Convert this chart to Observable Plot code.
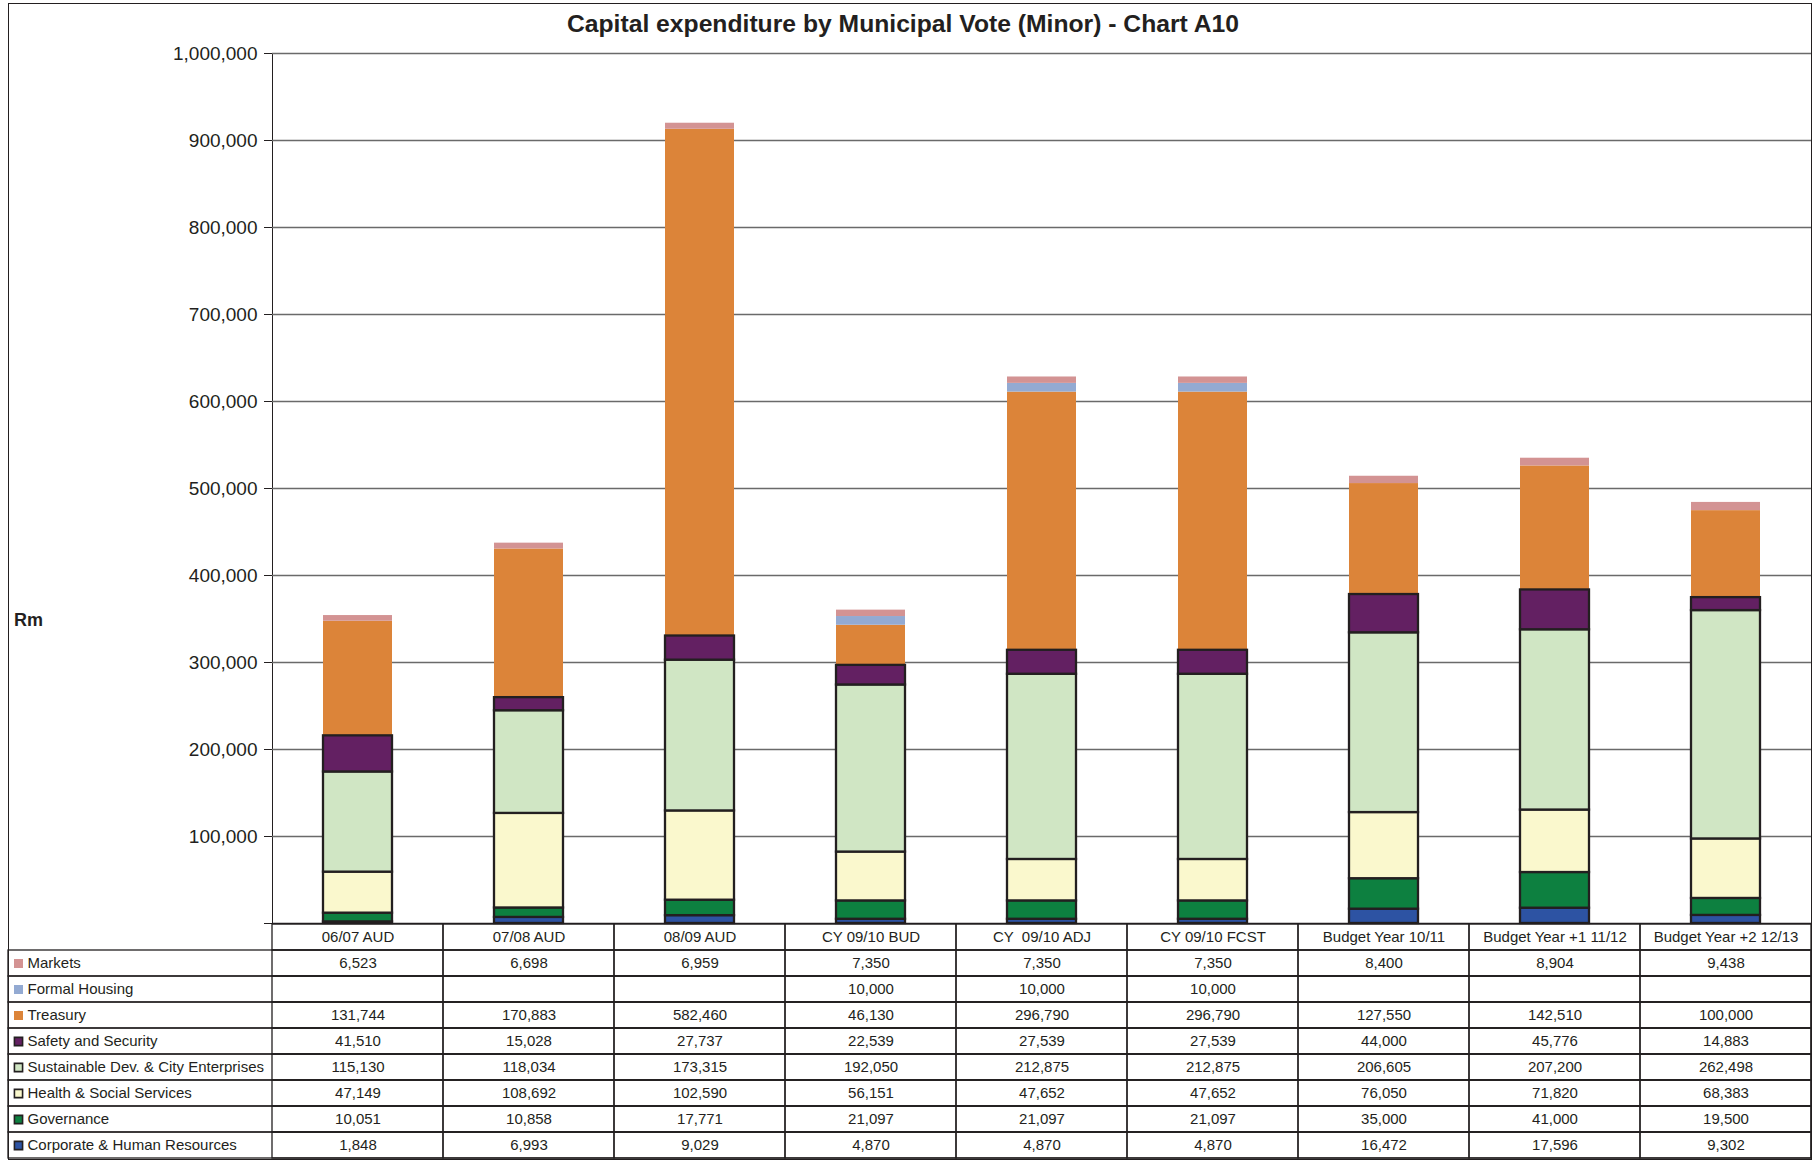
<!DOCTYPE html>
<html>
<head>
<meta charset="utf-8">
<script src="https://cdn.jsdelivr.net/npm/d3@7"></script>
<script src="https://cdn.jsdelivr.net/npm/@observablehq/plot@0.6"></script>
<style>
  html, body { margin: 0; padding: 0; background: #fff; overflow: hidden; }
  #page { position: relative; width: 1818px; height: 1161px; font-family: "Liberation Sans", Arial, sans-serif; color: #231f20; }
  #frame { position: absolute; left: 8px; top: 3px; width: 1804px; height: 1157px; border: 1.5px solid #231f20; box-sizing: border-box; pointer-events: none; }
  #title { position: absolute; left: 0; top: 9px; width: 1806px; text-align: center; font-weight: bold; font-size: 24.7px; line-height: 30px; }
  #ylabel { position: absolute; left: 14px; top: 609px; font-weight: bold; font-size: 18px; line-height: 22px; }
  #chart, #table { position: absolute; left: 0; }
  #chart { top: 0; }
  #table { top: 923px; }
  #table text { white-space: pre; }
</style>
</head>
<body>
<div id="page">
  <div id="title">Capital expenditure by Municipal Vote (Minor) - Chart A10</div>
  <div id="ylabel">Rm</div>
  <div id="chart"></div>
  <div id="table"></div>
  <div id="frame"></div>
</div>
<script>
// Financial years / budget columns
const categories = [
  "06/07 AUD", "07/08 AUD", "08/09 AUD", "CY 09/10 BUD", "CY  09/10 ADJ",
  "CY 09/10 FCST", "Budget Year 10/11", "Budget Year +1 11/12", "Budget Year +2 12/13"
];

// Capital expenditure per vote (R thousand); null = no allocation
const corporate     = [1848, 6993, 9029, 4870, 4870, 4870, 16472, 17596, 9302];
const governance    = [10051, 10858, 17771, 21097, 21097, 21097, 35000, 41000, 19500];
const health        = [47149, 108692, 102590, 56151, 47652, 47652, 76050, 71820, 68383];
const sustainable   = [115130, 118034, 173315, 192050, 212875, 212875, 206605, 207200, 262498];
const safety        = [41510, 15028, 27737, 22539, 27539, 27539, 44000, 45776, 14883];
const treasury      = [131744, 170883, 582460, 46130, 296790, 296790, 127550, 142510, 100000];
const formalHousing = [null, null, null, 10000, 10000, 10000, null, null, null];
const markets       = [6523, 6698, 6959, 7350, 7350, 7350, 8400, 8904, 9438];

// Series in stacking order (bottom to top)
const seriesNames = [
  "Corporate & Human Resources", "Governance", "Health & Social Services",
  "Sustainable Dev. & City Enterprises", "Safety and Security", "Treasury",
  "Formal Housing", "Markets"
];
const seriesValues = [corporate, governance, health, sustainable, safety, treasury, formalHousing, markets];
const seriesColors = ["#2d53a3", "#0d8040", "#faf8cd", "#d0e6c4", "#632062", "#dc8439", "#93aad2", "#d39393"];
// Votes drawn with a dark outline
const outlined = new Set(seriesNames.slice(0, 5));

const yTicks = d3.range(0, 1000001, 100000);

// Long-format rows, in stacking order
const rows = seriesNames.flatMap((name, s) =>
  categories.map((category, i) => ({category, series: name, value: seriesValues[s][i]}))
).filter(d => d.value != null);

const color = {domain: seriesNames, range: seriesColors};
const ink = "#231f20";
const fmt = d3.format(",");

// ---- Stacked column chart ----
const chart = Plot.plot({
  width: 1818,
  height: 923,
  marginTop: 53,
  marginBottom: 0,
  marginLeft: 272,
  marginRight: 7,
  style: {fontSize: "19px", fontFamily: "'Liberation Sans', Arial, sans-serif", color: ink, background: "transparent", overflow: "visible"},
  x: {domain: categories, padding: 0, axis: null},
  y: {
    domain: [0, 1000000],
    ticks: yTicks,
    tickSize: 8,
    tickPadding: 7,
    tickFormat: d => (d === 0 ? "" : fmt(d)),
    label: null,
    line: true
  },
  color,
  marks: [
    Plot.ruleY(yTicks.filter(d => d > 0), {stroke: "#6a6a6a", strokeWidth: 1.5}),
    Plot.ruleY([0], {stroke: ink, strokeWidth: 1.5}),
    Plot.barY(rows, Plot.stackY({x: "category", y: "value", fill: "series", insetLeft: 51, insetRight: 51})),
    Plot.barY(rows.filter(d => outlined.has(d.series)), Plot.stackY({
      x: "category", y: "value", fill: "series",
      stroke: ink, strokeWidth: 2.3, insetLeft: 51, insetRight: 51
    })),
    Plot.ruleX([0], {frameAnchor: "left", y1: 0, y2: 1000000, stroke: "#4a4a4a", strokeWidth: 1.5})
  ]
});
document.getElementById("chart").append(chart);

// ---- Data table below the chart ----
const header = "header";
const tableRows = seriesNames.slice().reverse(); // top to bottom: Markets ... Corporate
const rowKeys = [header, ...tableRows];

const table = Plot.plot({
  width: 1818,
  height: 236,
  marginTop: 0,
  marginBottom: 0,
  marginLeft: 8,
  marginRight: 7,
  style: {fontSize: "15px", fontFamily: "'Liberation Sans', Arial, sans-serif", color: ink, background: "transparent", overflow: "visible"},
  x: {domain: categories, range: [272, 1811], padding: 0, axis: null},
  y: {domain: rowKeys, padding: 0, axis: null},
  color,
  marks: [
    // row rules across the label column
    Plot.cell(tableRows, {y: d => d, fill: "none", stroke: ink, strokeWidth: 1.3}),
    // grid of value cells
    Plot.cell(d3.cross(rowKeys, categories), {x: d => d[1], y: d => d[0], fill: "none", stroke: ink, strokeWidth: 1.3}),
    // column headings
    Plot.text(categories, {x: d => d, y: () => header, text: d => d, fill: ink}),
    // values
    Plot.text(rows, {x: "category", y: "series", text: d => fmt(d.value), fill: ink}),
    // legend keys
    Plot.dot(tableRows.filter(d => !outlined.has(d)), {y: d => d, fill: d => d, symbol: "square", r: 5.1, frameAnchor: "left", dx: 10}),
    Plot.dot(tableRows.filter(d => outlined.has(d)), {y: d => d, fill: d => d, stroke: ink, strokeWidth: 1.6, symbol: "square", r: 4.6, frameAnchor: "left", dx: 10}),
    // vote names
    Plot.text(tableRows, {y: d => d, text: d => d, frameAnchor: "left", textAnchor: "start", dx: 19, fill: ink})
  ]
});
document.getElementById("table").append(table);
</script>
</body>
</html>
